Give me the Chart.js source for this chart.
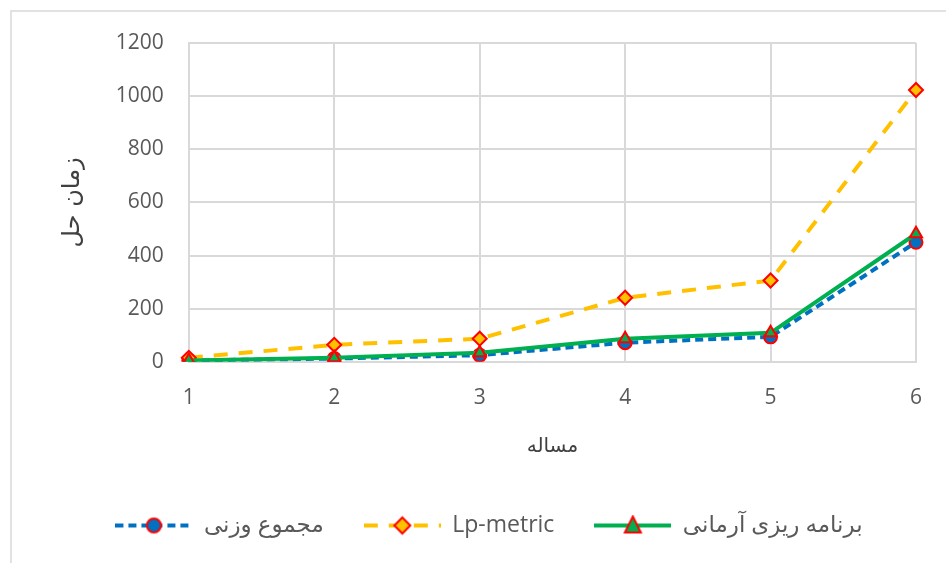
<!DOCTYPE html>
<html>
<head>
<meta charset="utf-8">
<script src="https://cdn.jsdelivr.net/npm/chart.js@4"></script>
<style>
html,body{margin:0;padding:0;background:#fff;}
#wrap{position:relative;width:946px;height:563px;}
</style>
</head>
<body>
<div id="wrap"><canvas id="c" width="946" height="563"></canvas></div>
<script>
const categories = ['1','2','3','4','5','6'];
const weightedSum = [5, 12, 25, 72, 94, 450];
const lpMetric = [15, 64, 87, 241, 306, 1023];
const goalProgramming = [5, 15, 34, 87, 109, 482];
const seriesNames = ['مجموع وزنی', 'Lp-metric', 'برنامه ریزی آرمانی'];
const xTitle = 'مساله';
const yTitle = 'زمان حل';

const numFont = '"Open Sans", "DejaVu Sans", sans-serif';
const faFont = '"DejaVu Sans", sans-serif';

function legendIcon(color, dash, style, fill) {
  const cv = document.createElement('canvas');
  cv.width = 77; cv.height = 22;
  const g = cv.getContext('2d');
  g.strokeStyle = color; g.lineWidth = 4; g.setLineDash(dash);
  g.beginPath(); g.moveTo(0, 11); g.lineTo(77, 11); g.stroke();
  g.setLineDash([]);
  g.fillStyle = fill; g.strokeStyle = '#FF0000'; g.lineWidth = 2;
  g.beginPath();
  if (style === 'circle') { g.arc(38.5, 11, 7, 0, Math.PI * 2); }
  else if (style === 'rectRot') { g.moveTo(38.5, 3); g.lineTo(46.5, 11); g.lineTo(38.5, 19); g.lineTo(30.5, 11); g.closePath(); }
  else { g.moveTo(38.5, 2); g.lineTo(46.5, 18); g.lineTo(30.5, 18); g.closePath(); }
  g.fill(); g.stroke();
  return cv;
}

const borderPlugin = {
  id: 'outerBorder',
  beforeDraw(chart) {
    const ctx = chart.ctx;
    ctx.save();
    ctx.strokeStyle = '#d9d9d9'; ctx.lineWidth = 1.5;
    ctx.strokeRect(11, 11, 960, 600);
    ctx.restore();
  }
};

const icons = [
  legendIcon('#0070C0', [8, 5], 'circle', '#0070C0'),
  legendIcon('#FFC000', [14, 11], 'rectRot', '#FFC000'),
  legendIcon('#00B050', [], 'triangle', '#00B050')
];

new Chart(document.getElementById('c'), {
  type: 'line',
  data: {
    labels: categories,
    datasets: [
      {
        label: seriesNames[2], data: goalProgramming,
        borderColor: '#00B050', backgroundColor: '#00B050', borderWidth: 4,
        pointStyle: 'triangle', pointRadius: 7, pointBorderColor: '#FF0000', pointBorderWidth: 2,
        pointBackgroundColor: '#00B050', tension: 0
      },
      {
        label: seriesNames[1], data: lpMetric,
        borderColor: '#FFC000', backgroundColor: '#FFC000', borderWidth: 4, borderDash: [14, 11],
        pointStyle: 'rectRot', pointRadius: 7, pointBorderColor: '#FF0000', pointBorderWidth: 2,
        pointBackgroundColor: '#FFC000', tension: 0
      },
      {
        label: seriesNames[0], data: weightedSum,
        borderColor: '#0070C0', backgroundColor: '#0070C0', borderWidth: 4, borderDash: [8, 5],
        pointStyle: 'circle', pointRadius: 6.5, pointBorderColor: '#FF0000', pointBorderWidth: 2,
        pointBackgroundColor: '#0070C0', tension: 0
      }
    ]
  },
  options: {
    responsive: false,
    animation: false,
    devicePixelRatio: 1,
    layout: { padding: { left: 58, right: 26, top: 43, bottom: 16 } },
    scales: {
      x: {
        offset: false,
        grid: { color: '#d9d9d9', lineWidth: 2, drawTicks: false },
        border: { color: '#d9d9d9', width: 2 },
        ticks: { color: '#595959', font: { family: numFont, size: 21 }, padding: 24 },
        title: { display: true, text: xTitle, color: '#404040', font: { family: faFont, size: 20 }, padding: { top: 0, bottom: 15 } }
      },
      y: {
        min: 0, max: 1200,
        grid: { color: '#d9d9d9', lineWidth: 2, drawTicks: false },
        border: { color: '#d9d9d9', width: 2 },
        ticks: { stepSize: 200, color: '#595959', font: { family: numFont, size: 21 }, padding: 25,
                 callback: (v) => String(v) },
        title: { display: true, text: yTitle, color: '#404040', font: { family: faFont, size: 24 }, padding: { top: 0, bottom: 4 } }
      }
    },
    plugins: {
      legend: {
        position: 'bottom',
        labels: {
          usePointStyle: true,
          pointStyleWidth: 77,
          padding: 40,
          color: '#595959',
          font: { family: numFont, size: 23 },
          generateLabels(chart) {
            return [2, 1, 0].map((di, k) => ({
              text: chart.data.datasets[di].label,
              pointStyle: icons[k],
              fillStyle: 'transparent', strokeStyle: 'transparent', lineWidth: 0,
              hidden: false, datasetIndex: di, fontColor: '#595959'
            }));
          }
        }
      },
      tooltip: { enabled: false }
    }
  },
  plugins: [borderPlugin]
});
</script>
</body>
</html>
